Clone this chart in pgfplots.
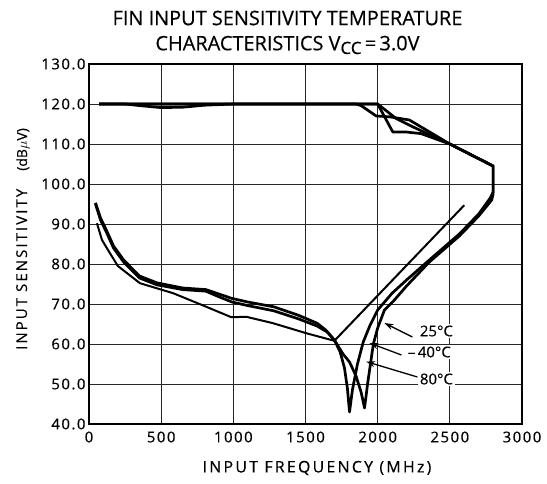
\documentclass[border=0pt]{standalone}
\usepackage{fontspec}
\setmainfont{Open Sans}[FakeBold=0.4]
\newfontfamily\lsfont{Open Sans}[LetterSpace=14, FakeBold=0.4]
\newfontfamily\tkfont{Open Sans}[LetterSpace=10, FakeBold=0.4]
\usepackage{pgfplots}
\pgfplotsset{compat=1.18}
\usetikzlibrary{arrows.meta}

\begin{document}
\begin{tikzpicture}[
  curve/.style={black, line width=2.7bp, line join=round, mark=none},
  lbl/.style={fill=white, inner sep=2bp, font=\fontsize{15}{15}\selectfont},
  arr/.style={-{Stealth[length=9bp,width=6bp]}, line width=1.3bp}]
\begin{axis}[
  at={(0,0)}, anchor=south west,
  scale only axis, width=433bp, height=360bp,
  xmin=0, xmax=3000, ymin=40, ymax=130,
  xtick={0,500,...,3000}, ytick={40,50,...,130},
  grid=major, major grid style={line width=0.8bp, black!85},
  axis line style={line width=2.3bp},
  major tick length=0pt,
  tick label style={font=\tkfont\fontsize{15}{15}\selectfont},
  /pgf/number format/assume math mode=true,
  x tick label style={/pgf/number format/1000 sep={}, yshift=-4bp},
  y tick label style={/pgf/number format/fixed, /pgf/number format/fixed zerofill, /pgf/number format/precision=1},
]
% curve with the straight rising part
\addplot[curve, line width=2.0bp] coordinates {
 (55,90.2)(90,86)(145,82.7)(200,79.5)(353,75.2)(583,72.7)(813,69.3)(986,66.7)
 (1090,66.8)(1275,65.2)(1505,62.7)(1700,60.8)(2600,94.7)};
% curve with dip near 1805 MHz
\addplot[curve] coordinates {
 (45,95.3)(80,91.5)(120,88.5)(170,84.5)(240,81)(350,77)(470,75.3)(650,74)
 (810,73.6)(900,72.5)(990,71.4)(1100,70.5)(1280,69.3)(1450,67.2)(1580,65.2)
 (1640,63.5)(1700,61)(1740,58)(1770,54)(1790,49)(1805,43)(1825,48.5)(1860,55)
 (1900,60.5)(1945,64.5)(2000,68.5)(2100,72.7)(2200,76)(2358,81)(2566,87.5)
 (2700,92.5)(2780,96.5)(2800,98)(2800,104.5)
 (2500,110)(2220,116)(2082,116.8)(1990,117)(1885,119.6)(1850,120)(70,120)};
% curve with dip near 1909 MHz
\addplot[curve] coordinates {
 (45,95)(80,91)(120,88)(170,84)(240,80.5)(350,76.5)(470,74.8)(650,73.6)
 (810,73.2)(900,71.8)(990,70.5)(1100,69.6)(1280,68.3)(1450,66.3)(1580,64.5)
 (1650,63)(1700,61)(1760,57.5)(1805,55.5)(1850,52)(1885,48)(1909,44)(1930,50)
 (1950,55)(1970,60)(2000,64)(2047,68.5)(2116,71)(2200,74.5)(2358,80.5)
 (2566,87)(2700,92)(2790,96)(2800,97.5)(2800,104.5)
 (2500,110)(2300,112.6)(2197,113)(2105,113)(2000,120)(70,120)};
% upper limit of the first curve
\addplot[curve] coordinates {
 (2800,104.5)(2500,110)(2243,114.3)(2127,116.4)(2000,120)(1000,120)(800,119.7)
 (650,119.2)(500,119.1)(350,119.6)(250,120)(70,120)};

\draw[arr] (axis cs:2241,61.75) -- (axis cs:2047,65.25);
\draw[arr] (axis cs:2165,57.25) -- (axis cs:1943,60.25);
\draw[arr] (axis cs:2275,51.75) -- (axis cs:1920,55.6);
\node[lbl] at (axis cs:2407,63.25) {25°C};
\node[lbl] at (axis cs:2358,58) {–\,40°C};
\node[lbl] at (axis cs:2407,51.25) {80°C};
\end{axis}

\node[font=\fontsize{20}{20}\selectfont] at (198.5bp,406bp) {FIN INPUT SENSITIVITY TEMPERATURE};
\node[font=\fontsize{20}{20}\selectfont] at (198.5bp,379bp)
  {CHARACTERISTICS V\raisebox{-0.35ex}{\fontsize{17}{17}\selectfont CC}\,=\,3.0V};
\node[rotate=90, font=\lsfont\fontsize{15}{15}\selectfont] at (-66bp,185bp)
  {INPUT SENSITIVITY\hspace{18bp}{\rmfamily\fontsize{14}{14}\selectfont(dB$\mu$V)}};
\node[font=\lsfont\fontsize{16}{16}\selectfont] at (228bp,-44bp) {INPUT FREQUENCY (MHz)};
\path[use as bounding box] (-89bp,-60bp) rectangle (458bp,424bp);
\end{tikzpicture}
\end{document}
